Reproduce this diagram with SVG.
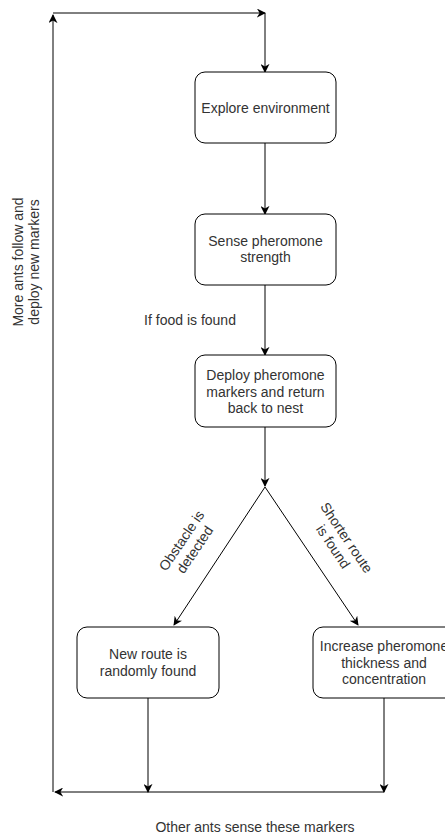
<svg xmlns="http://www.w3.org/2000/svg" width="445" height="835" viewBox="0 0 445 835">
<defs>
<marker id="arr" viewBox="0 0 10 10" refX="9" refY="5" markerWidth="9" markerHeight="9" markerUnits="userSpaceOnUse" orient="auto">
<path d="M0,0 L10,5 L0,10 L3,5 Z" fill="#000"/>
</marker>
</defs>
<style>
.box{fill:#fff;stroke:#000;stroke-width:1}
.t{font-family:"Liberation Sans",Arial,sans-serif;font-size:14px;fill:#333;text-anchor:middle}
.c{fill:none;stroke:#000;stroke-width:1}
</style>
<rect width="445" height="835" fill="#fff"/>
<g id="connectors">
<path class="c" d="M53,792 L53,15" marker-end="url(#arr)"/>
<path class="c" d="M53,13 L265,13" marker-end="url(#arr)"/>
<path class="c" d="M265,13 L265,72" marker-end="url(#arr)"/>
<path class="c" d="M265,143 L265,214" marker-end="url(#arr)"/>
<path class="c" d="M265,285 L265,355" marker-end="url(#arr)"/>
<path class="c" d="M265,427 L265,486" marker-end="url(#arr)"/>
<path class="c" d="M265,487 L174,625" marker-end="url(#arr)"/>
<path class="c" d="M265,487 L358,625" marker-end="url(#arr)"/>
<path class="c" d="M148,698 L148,792" marker-end="url(#arr)"/>
<path class="c" d="M384,698 L384,792" marker-end="url(#arr)"/>
<path class="c" d="M384,792 L55,792" marker-end="url(#arr)"/>
<text class="t" transform="translate(26,262) rotate(-90)"><tspan x="0" y="-3">More ants follow and</tspan><tspan x="0" y="13">deploy new markers</tspan></text>
<text class="t" x="190" y="325">If food is found</text>
<text class="t" transform="translate(188,545) rotate(-56)"><tspan x="0" y="-3">Obstacle is</tspan><tspan x="0" y="13">detected</tspan></text>
<text class="t" transform="translate(340,542) rotate(56)"><tspan x="0" y="-3">Shorter route</tspan><tspan x="0" y="13">is found</tspan></text>
<text class="t" x="255" y="832">Other ants sense these markers</text>
</g>
<g id="explore">
<rect class="box" x="195" y="72" width="141" height="71" rx="10"/>
<text class="t" x="265.5" y="113">Explore environment</text>
</g>
<g id="sense">
<rect class="box" x="195" y="214" width="141" height="71" rx="10"/>
<text class="t" x="265.5" y="246">Sense pheromone</text>
<text class="t" x="265.5" y="262">strength</text>
</g>
<g id="deploy">
<rect class="box" x="195" y="355" width="141" height="72" rx="10"/>
<text class="t" x="265.5" y="380">Deploy pheromone</text>
<text class="t" x="265.5" y="396.5">markers and return</text>
<text class="t" x="265.5" y="413">back to nest</text>
</g>
<g id="newroute">
<rect class="box" x="77" y="627" width="142" height="71" rx="10"/>
<text class="t" x="148" y="659">New route is</text>
<text class="t" x="148" y="675.5">randomly found</text>
</g>
<g id="increase">
<rect class="box" x="313" y="627" width="142" height="71" rx="10"/>
<text class="t" x="384" y="651">Increase pheromone</text>
<text class="t" x="384" y="667.5">thickness and</text>
<text class="t" x="384" y="684">concentration</text>
</g>
</svg>
